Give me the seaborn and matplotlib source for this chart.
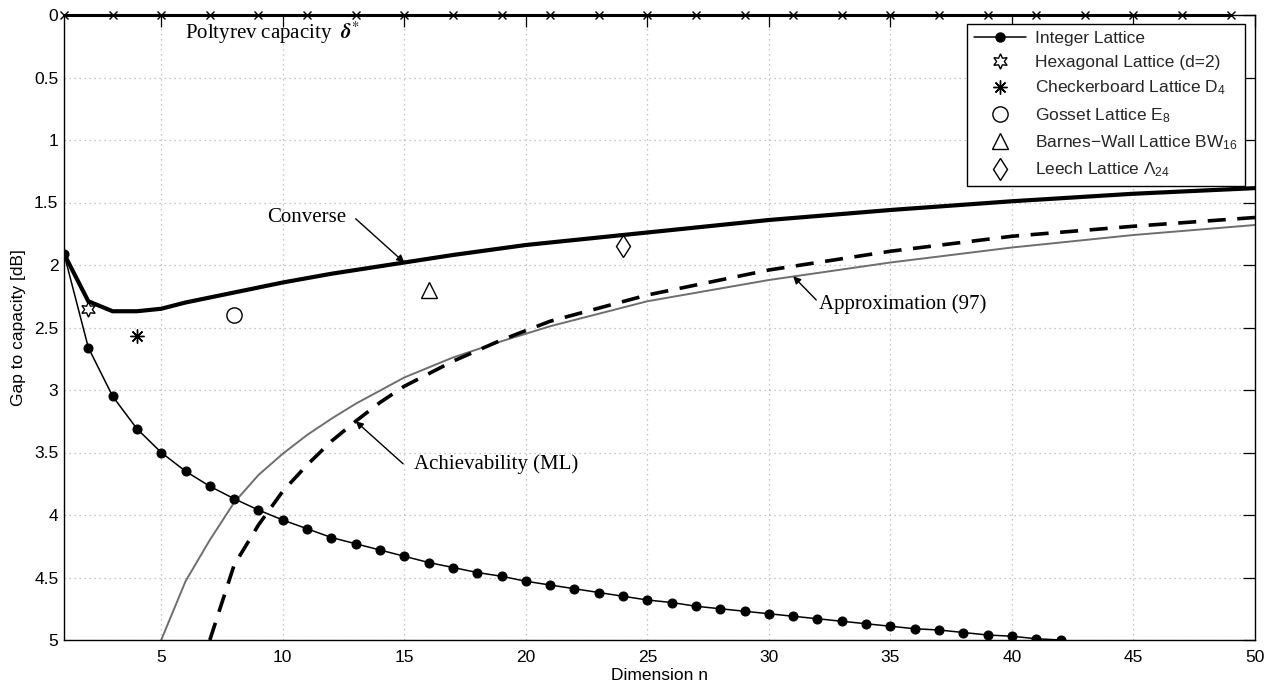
import numpy as np
import matplotlib
matplotlib.use("Agg")
import matplotlib.pyplot as plt
from matplotlib.lines import Line2D
from matplotlib.ticker import MultipleLocator, FormatStrFormatter
import seaborn as sns

# ---------------------------------------------------------------------------
# data (gap to Poltyrev capacity, dB)
# ---------------------------------------------------------------------------
n_int = list(range(1, 43))
gap_int = [1.91, 2.66, 3.05, 3.31, 3.50, 3.65, 3.77, 3.87, 3.96, 4.04,
           4.11, 4.18, 4.23, 4.28, 4.33, 4.38, 4.42, 4.46, 4.49, 4.53,
           4.56, 4.59, 4.62, 4.65, 4.68, 4.70, 4.73, 4.75, 4.77, 4.79,
           4.81, 4.83, 4.85, 4.87, 4.89, 4.91, 4.92, 4.94, 4.96, 4.97,
           4.99, 5.00]

n_conv = [1, 2, 3, 4, 5, 6, 7, 8, 10, 12, 15, 17, 20, 25, 30, 35, 40, 45, 50]
gap_conv = [1.91, 2.29, 2.37, 2.37, 2.35, 2.30, 2.26, 2.22, 2.14, 2.07,
            1.98, 1.92, 1.84, 1.74, 1.64, 1.56, 1.49, 1.43, 1.385]

n_ach = [7, 8, 9, 10, 11, 12, 13, 14, 15, 17, 19, 21, 25, 30, 35, 40, 45, 50]
gap_ach = [5.0, 4.40, 4.08, 3.81, 3.60, 3.41, 3.25, 3.10, 2.97, 2.77,
           2.60, 2.45, 2.24, 2.04, 1.89, 1.77, 1.69, 1.62]

n_approx = [5, 6, 7, 8, 9, 10, 11, 12, 13, 15, 17, 19, 21, 25, 30, 35, 40, 45, 50]
gap_approx = [5.0, 4.53, 4.20, 3.90, 3.68, 3.51, 3.36, 3.23, 3.11, 2.90,
              2.74, 2.61, 2.49, 2.29, 2.12, 1.98, 1.86, 1.76, 1.68]

n_poltyrev = list(range(1, 50, 2))
gap_poltyrev = [0.0] * len(n_poltyrev)

# special lattices: (dimension, gap)
lattice_names = ["Hexagonal Lattice (d=2)", "Checkerboard Lattice D$_4$",
                 "Gosset Lattice E$_8$", "Barnes\u2212Wall Lattice BW$_{16}$",
                 "Leech Lattice $\\Lambda_{24}$"]
lattice_n = [2, 4, 8, 16, 24]
lattice_gap = [2.35, 2.57, 2.40, 2.20, 1.85]
lattice_markers = [(6, 1, 0), (8, 2, 0), "o", "^", "d"]
lattice_msize = [11, 10, 11, 12, 11.5]

# ---------------------------------------------------------------------------
sns.set_theme(style="white")
plt.rcParams["font.family"] = ["Liberation Sans", "DejaVu Sans"]
plt.rcParams["mathtext.fontset"] = "custom"
plt.rcParams["mathtext.rm"] = "Liberation Sans"
plt.rcParams["mathtext.it"] = "Liberation Sans:italic"
plt.rcParams["mathtext.bf"] = "Liberation Sans:bold"

fig = plt.figure(figsize=(12.68, 6.85), dpi=100)
ax = fig.add_axes([64 / 1268, 1 - 640 / 685, (1255 - 64) / 1268, (640 - 15) / 685])

# curves
sns.lineplot(x=n_approx, y=gap_approx, ax=ax, color="#6e6e6e", lw=1.4, legend=False)
sns.lineplot(x=n_ach, y=gap_ach, ax=ax, color="black", lw=2.6, legend=False,
             dashes=False)
ax.lines[-1].set_dashes([5, 3.2])
sns.lineplot(x=n_conv, y=gap_conv, ax=ax, color="black", lw=3.0, legend=False)
sns.lineplot(x=n_int, y=gap_int, ax=ax, color="black", lw=1.1, marker="o",
             markersize=6.5, markeredgecolor="black", legend=False)
ax.plot(n_poltyrev, gap_poltyrev, color="black", lw=2.2, marker="x",
        markersize=6, mew=1.0, clip_on=False, zorder=5)

for xn, yg, mk, ms in zip(lattice_n, lattice_gap, lattice_markers, lattice_msize):
    ax.plot([xn], [yg], linestyle="none", marker=mk, markersize=ms,
            markerfacecolor="none", markeredgecolor="black", mew=1.0)

# axes styling (MATLAB look)
ax.set_xlim(1, 50)
ax.set_ylim(5, 0)
ax.xaxis.set_major_locator(MultipleLocator(5))
ax.yaxis.set_major_locator(MultipleLocator(0.5))
ax.yaxis.set_major_formatter(FormatStrFormatter("%g"))
ax.tick_params(direction="in", length=8.5, width=0.9, top=True, right=True,
               labelsize=12.5, colors="black")
ax.tick_params(axis="x", pad=7)
ax.tick_params(axis="y", pad=4)
for s in ax.spines.values():
    s.set_color("black")
    s.set_linewidth(1.0)
ax.grid(True, color="#b4b4b4", linestyle=(0, (1, 3)), linewidth=0.9)
ax.set_xlabel("Dimension n", fontsize=12.5, labelpad=2, color="black")
ax.set_ylabel("Gap to capacity [dB]", fontsize=12.5, labelpad=6, color="black")

# annotations
serif = dict(family=["Liberation Serif", "DejaVu Serif"], fontsize=15, color="black")
arrow = dict(arrowstyle="-|>", color="black", lw=1.0, mutation_scale=11,
             shrinkA=0, shrinkB=0)
ax.text(5.98, 0.14, "Poltyrev capacity  $\\mathbfit{\\delta}^{*}$", ha="left",
        va="center", math_fontfamily="stix", **serif)
ax.text(9.35, 1.62, "Converse", ha="left", va="center", **serif)
ax.annotate("", xy=(15.0, 1.98), xytext=(13.0, 1.63), arrowprops=arrow)
ax.text(32.05, 2.31, "Approximation (97)", ha="left", va="center", **serif)
ax.annotate("", xy=(31.0, 2.09), xytext=(31.95, 2.28), arrowprops=arrow)
ax.text(15.4, 3.59, "Achievability (ML)", ha="left", va="center", **serif)
ax.annotate("", xy=(13.0, 3.25), xytext=(14.95, 3.59), arrowprops=arrow)

# legend
handles = [Line2D([], [], color="black", lw=1.1, marker="o", markersize=6.5,
                  label="Integer Lattice")]
for name, mk, ms in zip(lattice_names, lattice_markers, lattice_msize):
    handles.append(Line2D([], [], linestyle="none", marker=mk, markersize=ms,
                          markerfacecolor="none", markeredgecolor="black",
                          mew=1.0, label=name))
leg = ax.legend(handles=handles, loc="upper right",
                bbox_to_anchor=(0.9916, 0.9856), borderaxespad=0,
                fontsize=12.5, frameon=True, fancybox=False, framealpha=1,
                edgecolor="black", handlelength=3.0, handletextpad=0.5,
                labelspacing=0.5, borderpad=0.4)
leg.get_frame().set_linewidth(1.0)

fig.savefig("out.png", dpi=100)
